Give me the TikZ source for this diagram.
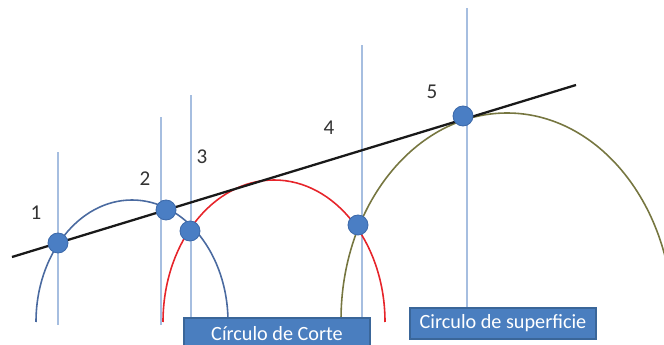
\documentclass[tikz,border=0pt]{standalone}
\usepackage{fontspec}
\setmainfont{Carlito}
\usetikzlibrary{calc}

\begin{document}
\begin{tikzpicture}[
  guide/.style={line width=0.6pt, draw={rgb,255:red,166;green,190;blue,224}},
  tangent/.style={line width=1.3pt, draw=black!90},
  arcA/.style={line width=0.9pt, draw={rgb,255:red,74;green,106;blue,160}},
  arcB/.style={line width=0.9pt, draw={rgb,255:red,230;green,36;blue,42}},
  arcC/.style={line width=0.9pt, draw={rgb,255:red,118;green,118;blue,64}},
  dot/.style={circle, fill={rgb,255:red,74;green,126;blue,196}, draw={rgb,255:red,60;green,105;blue,170}, line width=0.5pt, minimum size=0.40cm, inner sep=0pt},
  tag/.style={font=\fontsize{12}{14}\selectfont, text=black!80},
  caption/.style={rectangle, fill={rgb,255:red,74;green,126;blue,191}, draw={rgb,255:red,58;green,102;blue,153}, line width=0.6pt, text=white, font=\fontsize{11.5}{13}\selectfont, minimum width=3.72cm, minimum height=0.62cm, inner sep=0pt},
]

% Coordinate system: 1 px of the sketch = 0.02 cm, origin at lower left
\useasboundingbox (0,0) rectangle (13.28,6.90);
\clip (0,0) rectangle (13.28,6.90);

% vertical guides
\foreach \x/\top/\bot in {1.16/3.86/0.40, 3.22/4.56/0.40, 3.82/5.00/0.54, 7.24/6.00/0.54, 9.34/6.74/0.74} {
  \draw[guide] (\x,\bot) -- (\x,\top);
}

% circles (half ellipses)
\draw[arcA] (0.72,0.46) arc[start angle=180, end angle=0, x radius=1.92, y radius=2.44];
\draw[arcB] (3.26,0.46) arc[start angle=180, end angle=0, x radius=2.22, y radius=2.84];
\draw[arcC] (6.82,0.50) arc[start angle=180, end angle=0, x radius=3.32, y radius=4.14];

% tangent line
\coordinate (tA) at (0.24,1.76);
\coordinate (tB) at (11.52,5.20);
\draw[tangent] (tA) -- (tB);

% intersection points
\foreach \n/\x/\y in {1/1.16/2.04, 2/3.32/2.70, 3/3.80/2.28, 4/7.16/2.40, 5/9.26/4.58} {
  \node[dot] (p\n) at (\x,\y) {};
}

% numbers
\foreach \n/\x/\y in {1/0.72/2.64, 2/2.90/3.32, 3/4.04/3.76, 4/6.58/4.34, 5/8.64/5.06} {
  \node[tag] (n\n) at (\x,\y) {\n};
}

% captions
\node[caption, minimum height=0.64cm] (corte) at (5.54,0.22) {Círculo de Corte};
\node[caption] (sup) at (10.06,0.43) {Circulo de superficie};

\end{tikzpicture}
\end{document}
